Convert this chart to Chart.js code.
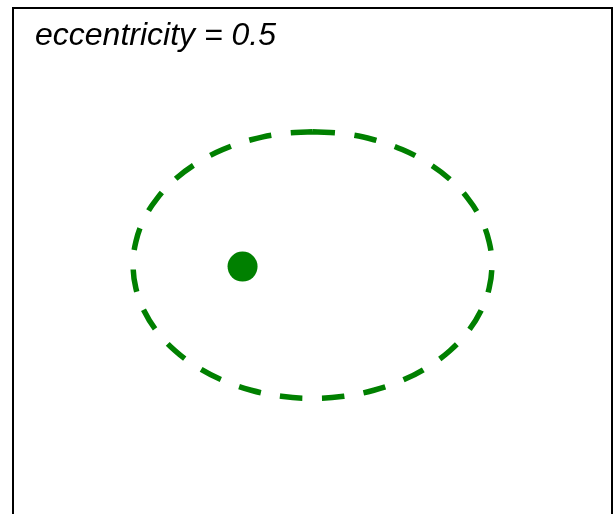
<!DOCTYPE html>
<html>
<head>
<meta charset="utf-8">
<script src="https://cdn.jsdelivr.net/npm/chart.js@4"></script>
<style>
  html, body { margin: 0; padding: 0; background: #fff; overflow: hidden; }
  #chart { position: absolute; left: 0; top: 0; }
</style>
</head>
<body>
<canvas id="chart" width="613" height="514"></canvas>
<script>
// ellipse outline (a = 1, b ~ 0.866), every 10 degrees,
// starting at the top so the dash pattern joins there like in the original
const ellipseX = [0, 0.174, 0.342, 0.5, 0.643, 0.766, 0.866, 0.940, 0.985, 1,
  0.985, 0.940, 0.866, 0.766, 0.643, 0.5, 0.342, 0.174, 0,
  -0.174, -0.342, -0.5, -0.643, -0.766, -0.866, -0.940, -0.985, -1,
  -0.985, -0.940, -0.866, -0.766, -0.643, -0.5, -0.342, -0.174, 0];
const ellipseY = [0.866, 0.853, 0.814, 0.750, 0.663, 0.557, 0.433, 0.296, 0.150, 0,
  -0.150, -0.296, -0.433, -0.557, -0.663, -0.750, -0.814, -0.853, -0.866,
  -0.853, -0.814, -0.750, -0.663, -0.557, -0.433, -0.296, -0.150, 0,
  0.150, 0.296, 0.433, 0.557, 0.663, 0.750, 0.814, 0.853, 0.866];
const focusX = [-0.39];
const focusY = [-0.01];
const xRange = [-1.67, 1.67];
const yRange = [-1.618, 1.67]; // bottom of the frame is cut off by the window
const titleText = 'eccentricity = 0.5';

const green = '#008000';

// frame on left, top and right only, plus the label
const framePlugin = {
  id: 'frame',
  afterDraw(chart) {
    const { ctx, chartArea } = chart;
    ctx.save();
    ctx.strokeStyle = '#000';
    ctx.lineWidth = 2;
    ctx.beginPath();
    ctx.moveTo(chartArea.left, chartArea.bottom + 2);
    ctx.lineTo(chartArea.left, chartArea.top);
    ctx.lineTo(chartArea.right, chartArea.top);
    ctx.lineTo(chartArea.right, chartArea.bottom + 2);
    ctx.stroke();
    ctx.fillStyle = '#000';
    ctx.font = 'italic 32px "Liberation Sans", Arial, sans-serif';
    ctx.textBaseline = 'alphabetic';
    ctx.fillText(titleText, chartArea.left + 22, chartArea.top + 37);
    ctx.restore();
  }
};

new Chart(document.getElementById('chart'), {
  type: 'scatter',
  data: {
    datasets: [
      {
        data: ellipseX.map((x, i) => ({ x, y: ellipseY[i] })),
        showLine: true,
        borderColor: green,
        borderWidth: 5.5,
        borderDash: [22.5, 19.5],
        tension: 0.4,
        pointRadius: 0,
        fill: false
      },
      {
        data: focusX.map((x, i) => ({ x, y: focusY[i] })),
        pointRadius: 15,
        pointBackgroundColor: green,
        pointBorderWidth: 0,
        showLine: false
      }
    ]
  },
  options: {
    responsive: false,
    animation: false,
    devicePixelRatio: 1,
    layout: { autoPadding: false, padding: { left: 13, right: 1, top: 8, bottom: 0 } },
    scales: {
      x: { min: xRange[0], max: xRange[1], display: false },
      y: { min: yRange[0], max: yRange[1], display: false }
    },
    plugins: {
      legend: { display: false },
      tooltip: { enabled: false }
    }
  },
  plugins: [framePlugin]
});
</script>
</body>
</html>
